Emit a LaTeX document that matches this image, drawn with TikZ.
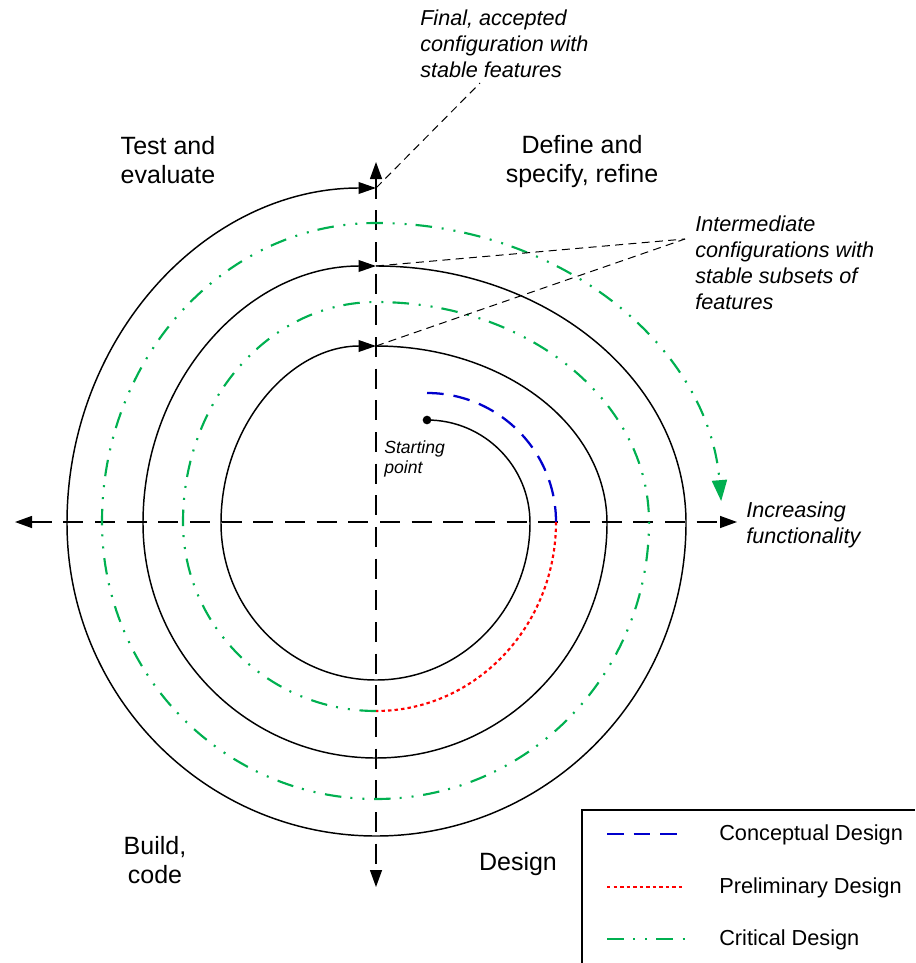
\documentclass[tikz,border=0pt]{standalone}
\usepackage{fontspec}
\setmainfont{Liberation Sans}
\usetikzlibrary{arrows.meta,calc}

\definecolor{critgreen}{RGB}{0,176,80}
\definecolor{concblue}{RGB}{0,0,204}
\definecolor{prelred}{RGB}{255,0,0}

\begin{document}
\begin{tikzpicture}[x=0.75pt,y=-0.75pt,
  spiral/.style={line width=1.1pt},
  axis/.style={line width=1pt, dash pattern=on 15pt off 8.75pt,
    {Triangle[length=12.75pt,width=9pt]}-{Triangle[length=12.75pt,width=9pt]}},
  turn/.style={-{Triangle[length=13pt,width=8.75pt]}},
  leader/.style={line width=0.75pt, dash pattern=on 6pt off 4pt},
  conceptual/.style={concblue, line width=1.7pt, dash pattern=on 12.5pt off 7.5pt},
  preliminary/.style={prelred, line width=1.6pt, dash pattern=on 2.6pt off 2.3pt},
  critical/.style={critgreen, line width=1.6pt,
    dash pattern=on 12.4pt off 7.3pt on 1.5pt off 7.5pt on 1.5pt off 6.8pt},
  phase/.style={font=\fontsize{18.75}{22}\selectfont, inner sep=0pt, align=center},
  note/.style={font=\fontsize{16.2}{19.5}\selectfont\itshape, inner sep=0pt, align=left},
  legendtext/.style={font=\fontsize{16.3}{19.5}\selectfont, inner sep=0pt, anchor=base west},
]
\useasboundingbox (0,0) rectangle (915,963);

% axes
\coordinate (O) at (376,522);
\coordinate (W) at (15,522);
\coordinate (E) at (737,522);
\coordinate (N) at (376,162);
\coordinate (S) at (376,887);
\draw[axis] (W) -- (E);
\draw[axis] (N) -- (S);

% black spiral, one path per turn
\node[circle, fill, inner sep=0pt, minimum size=6.5pt] (start) at (427,420) {};
\draw[spiral, turn] (start.center)
  arc[start angle=270, end angle=360, radius=103]
  arc[start angle=0, end angle=90, x radius=154, y radius=157]
  arc[start angle=90, end angle=180, x radius=155, y radius=157]
  arc[start angle=180, end angle=270, x radius=155, y radius=177] coordinate (top1);
\draw[spiral, turn] (top1)
  arc[start angle=270, end angle=360, x radius=231, y radius=177]
  arc[start angle=0, end angle=90, x radius=231, y radius=235]
  arc[start angle=90, end angle=180, x radius=233, y radius=235]
  arc[start angle=180, end angle=270, x radius=233, y radius=257] coordinate (top2);
\draw[spiral, turn] (top2)
  arc[start angle=270, end angle=360, x radius=310, y radius=257]
  arc[start angle=0, end angle=90, x radius=310, y radius=313]
  arc[start angle=90, end angle=180, x radius=309, y radius=313]
  arc[start angle=180, end angle=270, x radius=309, y radius=335] coordinate (top3);

% design phases along the spiral
\coordinate (c0) at (427,393);
\draw[conceptual] (c0) arc[start angle=270, end angle=360, radius=129] coordinate (c1);
\draw[preliminary] (c1) arc[start angle=0, end angle=90, x radius=180, y radius=189] coordinate (c2);
\draw[critical, -{Triangle[length=15.75pt,width=11.25pt]}] (c2)
  arc[start angle=90, end angle=180, x radius=193, y radius=189]
  arc[start angle=180, end angle=270, x radius=193, y radius=220]
  arc[start angle=270, end angle=360, x radius=273, y radius=220]
  arc[start angle=0, end angle=90, x radius=273, y radius=277]
  arc[start angle=90, end angle=180, x radius=274, y radius=277]
  arc[start angle=180, end angle=270, x radius=274, y radius=299]
  arc[start angle=270, end angle=356, x radius=346, y radius=299];

% quadrant labels
\node[phase, anchor=north] (test) at (168,136) {Test and\\evaluate};
\node[phase, anchor=north] (define) at (582,135) {Define and\\specify, refine};
\node[phase, anchor=north] (build) at (155,836) {Build,\\code};
\node[phase, anchor=base] (design) at (518,870) {Design};

% notes
\node[note, anchor=north west] (final) at (420,10) {Final, accepted\\configuration with\\stable features};
\node[note, anchor=north west] (inter) at (695,216) {Intermediate\\configurations with\\stable subsets of\\features};
\node[note, anchor=north west] (incr) at (746,502) {Increasing\\functionality};
\node[note, font=\fontsize{13.2}{15}\selectfont\itshape, anchor=north west] (startlbl) at (384,440) {Starting\\point};

% leader lines
\coordinate (finalend) at (480,83);
\coordinate (interend) at (685,239);
\draw[leader] (top3) -- (finalend);
\draw[leader] (top1) -- (interend);
\draw[leader] (top2) -- (interend);

% legend
\draw[line width=0.9pt] (582,963) |- (915,810);
\coordinate (l1a) at (607,834); \coordinate (l1b) at (677,834);
\coordinate (l2a) at (607,887); \coordinate (l2b) at (684,887);
\coordinate (l3a) at (607,939); \coordinate (l3b) at (685,939);
\draw[conceptual] (l1a) -- (l1b);
\draw[preliminary] (l2a) -- (l2b);
\draw[critical] (l3a) -- (l3b);
\node[legendtext] (lt1) at (719,840) {Conceptual Design};
\node[legendtext] (lt2) at (719,893) {Preliminary Design};
\node[legendtext] (lt3) at (719,945) {Critical Design};
\end{tikzpicture}
\end{document}
